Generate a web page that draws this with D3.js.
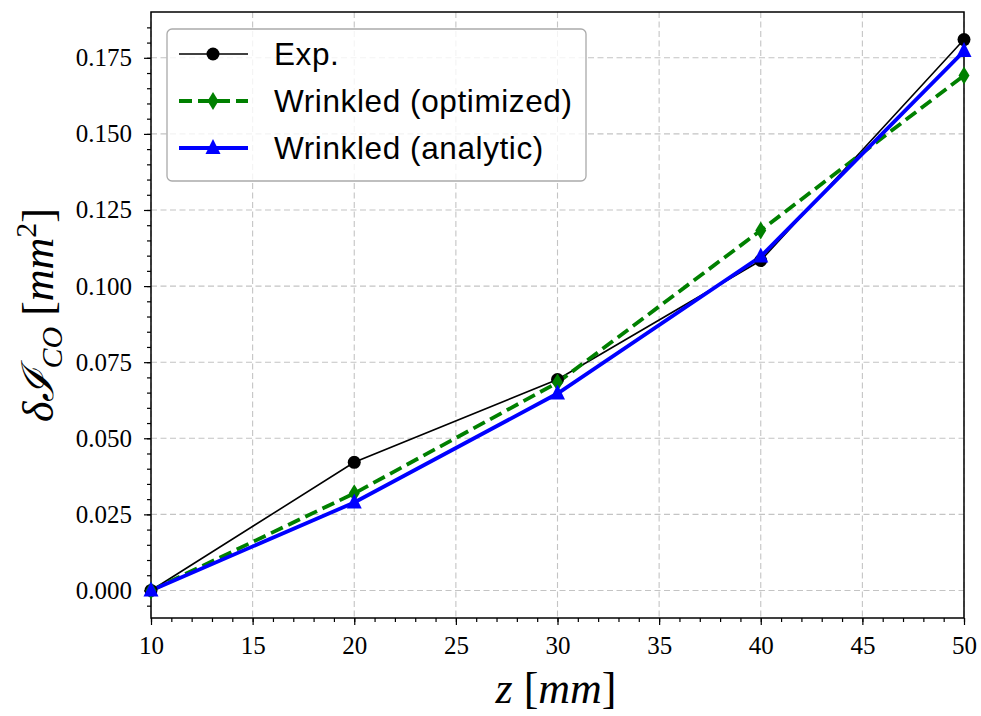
<!DOCTYPE html>
<html><head><meta charset="utf-8">
<script src="https://cdn.jsdelivr.net/npm/d3@7"></script>
<style>body{margin:0;background:#fff}svg{display:block}</style>
</head><body>
<svg id="chart" width="981" height="716"></svg>
<script>
const zValues = [10, 20, 30, 40, 50];
const expValues = [0.0, 0.0421, 0.0693, 0.1084, 0.181];
const optimizedValues = [0.0, 0.0319, 0.0683, 0.1183, 0.1692];
const analyticValues = [0.0, 0.0289, 0.0647, 0.1097, 0.1772];
const xTicks = [10, 15, 20, 25, 30, 35, 40, 45, 50];
const yTicks = [0.000, 0.025, 0.050, 0.075, 0.100, 0.125, 0.150, 0.175];
const seriesNames = ["Exp.", "Wrinkled (optimized)", "Wrinkled (analytic)"];

const svg = d3.select("#chart");
const L = 151, R = 964, T = 12, B = 618;
const x = d3.scaleLinear().domain([10, 50]).range([L, R]);
const y = d3.scaleLinear().domain([-0.00905, 0.19005]).range([B, T]);
const serif = "'Liberation Serif','DejaVu Serif',serif";
const sans = "'Liberation Sans',Arial,sans-serif";

// grid
const grid = svg.append("g");
grid.selectAll(".gx").data(xTicks).join("line")
  .attr("x1", d => x(d)).attr("x2", d => x(d)).attr("y1", T).attr("y2", B)
  .attr("stroke", "#c4c4c4").attr("stroke-width", 1.1).attr("stroke-dasharray", "6,3.5");
grid.selectAll(".gy").data(yTicks).join("line")
  .attr("x1", L).attr("x2", R).attr("y1", d => y(d)).attr("y2", d => y(d))
  .attr("stroke", "#c4c4c4").attr("stroke-width", 1.1).attr("stroke-dasharray", "6,3.5");

// axes
const xMinor = d3.range(10, 50.01, 1);
const yMinor = d3.range(-0.005, 0.19, 0.005);
const xAxis = d3.axisBottom(x).tickValues(xTicks).tickFormat(d3.format("d")).tickSize(7).tickPadding(11);
const xAxisMinor = d3.axisBottom(x).tickValues(xMinor).tickFormat("").tickSize(4);
const yAxis = d3.axisLeft(y).tickValues(yTicks).tickFormat(d3.format(".3f")).tickSize(7).tickPadding(12);
const yAxisMinor = d3.axisLeft(y).tickValues(yMinor).tickFormat("").tickSize(4);

function styleAxis(g) {
  g.select(".domain").remove();
  g.selectAll("line").attr("stroke", "#000").attr("stroke-width", 1.2);
  g.selectAll("text").attr("font-family", serif).attr("font-size", 25).attr("fill", "#000");
}
svg.append("g").attr("transform", `translate(0,${B})`).call(xAxisMinor).call(styleAxis);
svg.append("g").attr("transform", `translate(0,${B})`).call(xAxis).call(styleAxis);
svg.append("g").attr("transform", `translate(${L},0)`).call(yAxisMinor).call(styleAxis);
svg.append("g").attr("transform", `translate(${L},0)`).call(yAxis).call(styleAxis);

// frame
svg.append("rect").attr("x", L).attr("y", T).attr("width", R - L).attr("height", B - T)
  .attr("fill", "none").attr("stroke", "#000").attr("stroke-width", 1.5);

// lines
const line = d3.line().x((d, i) => x(zValues[i])).y(d => y(d));
const plot = svg.append("g");
plot.append("path").datum(expValues).attr("d", line).attr("fill", "none").attr("stroke", "#000").attr("stroke-width", 1.6);
plot.append("path").datum(optimizedValues).attr("d", line).attr("fill", "none").attr("stroke", "green").attr("stroke-width", 3.8).attr("stroke-dasharray", "13,6");
plot.append("path").datum(analyticValues).attr("d", line).attr("fill", "none").attr("stroke", "blue").attr("stroke-width", 3.8);

const diamond = "M0,-9L5.5,0L0,9L-5.5,0Z";
const tri = "M0,-9L7.5,6L-7.5,6Z";
plot.selectAll(".mc").data(expValues).join("circle")
  .attr("cx", (d, i) => x(zValues[i])).attr("cy", d => y(d)).attr("r", 6.5).attr("fill", "#000");
plot.selectAll(".md").data(optimizedValues).join("path")
  .attr("d", diamond).attr("transform", (d, i) => `translate(${x(zValues[i])},${y(d)})`).attr("fill", "green");
plot.selectAll(".mt").data(analyticValues).join("path")
  .attr("d", tri).attr("transform", (d, i) => `translate(${x(zValues[i])},${y(d)})`).attr("fill", "blue");

// legend
const lg = svg.append("g");
lg.append("rect").attr("x", 167).attr("y", 29).attr("width", 419).attr("height", 152).attr("rx", 5)
  .attr("fill", "#fff").attr("fill-opacity", 0.8).attr("stroke", "#aaa").attr("stroke-width", 1.3);
const ly = [54, 101, 148];
const lx0 = 179, lx1 = 248, lxm = 213;
lg.append("line").attr("x1", lx0).attr("x2", lx1).attr("y1", ly[0]).attr("y2", ly[0]).attr("stroke", "#000").attr("stroke-width", 1.6);
lg.append("circle").attr("cx", lxm).attr("cy", ly[0]).attr("r", 6.5).attr("fill", "#000");
lg.append("line").attr("x1", lx0).attr("x2", lx1).attr("y1", ly[1]).attr("y2", ly[1]).attr("stroke", "green").attr("stroke-width", 3.8).attr("stroke-dasharray", "13,6");
lg.append("path").attr("d", diamond).attr("transform", `translate(${lxm},${ly[1]})`).attr("fill", "green");
lg.append("line").attr("x1", lx0).attr("x2", lx1).attr("y1", ly[2]).attr("y2", ly[2]).attr("stroke", "blue").attr("stroke-width", 3.8);
lg.append("path").attr("d", tri).attr("transform", `translate(${lxm},${ly[2]})`).attr("fill", "blue");
lg.selectAll(".lt").data(seriesNames).join("text")
  .attr("x", 274).attr("y", (d, i) => ly[i] + 11).attr("font-family", sans).attr("font-size", 31.5)
  .attr("letter-spacing", 0.6).attr("fill", "#000")
  .text(d => d);

// axis labels
const xl = svg.append("text").attr("x", 556).attr("y", 703).attr("text-anchor", "middle")
  .attr("font-family", serif).attr("font-size", 44).attr("fill", "#000");
xl.append("tspan").attr("font-style", "italic").text("z");
xl.append("tspan").text(" [");
xl.append("tspan").attr("font-style", "italic").text("mm");
xl.append("tspan").text("]");

const yl = svg.append("text").attr("transform", "translate(53,315) rotate(-90)").attr("text-anchor", "middle")
  .attr("font-family", serif).attr("font-size", 44).attr("fill", "#000");
yl.append("tspan").attr("font-style", "italic").text("δ");
yl.append("tspan").attr("font-style", "italic").text("ℐ");
yl.append("tspan").attr("font-style", "italic").attr("font-size", 30).attr("dy", 9).text("CO");
yl.append("tspan").attr("dy", -9).text(" [");
yl.append("tspan").attr("font-style", "italic").text("mm");
yl.append("tspan").attr("font-size", 30).attr("dy", -17).text("2");
yl.append("tspan").attr("dy", 17).text("]");
</script>
</body></html>
